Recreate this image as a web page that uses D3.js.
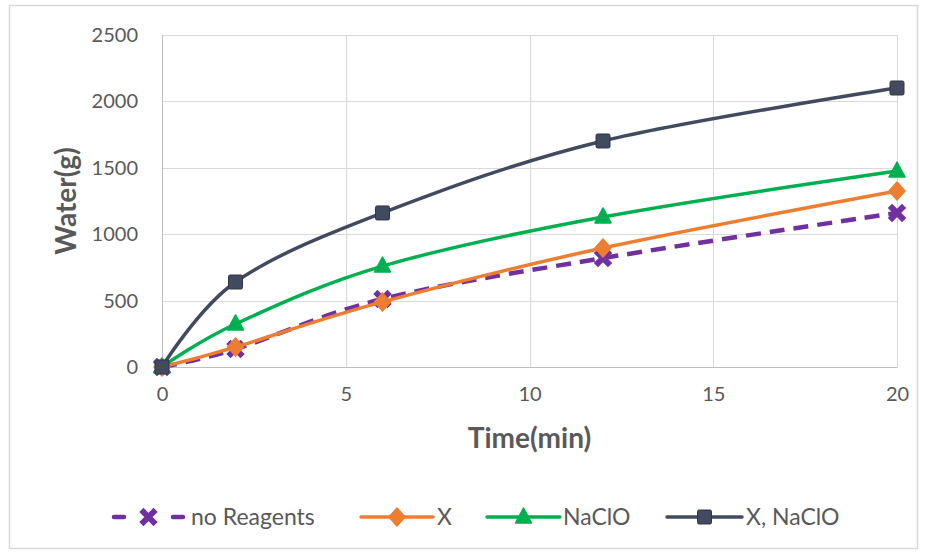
<!DOCTYPE html>
<html><head><meta charset="utf-8">
<script src="https://cdn.jsdelivr.net/npm/d3@7"></script>
<style>
html,body{margin:0;padding:0;background:#fff;}
svg{display:block;font-family:Lato,"Open Sans",sans-serif;}
</style></head>
<body>
<svg id="chart" width="926" height="554"></svg>
<script>
const times = [0, 2, 6, 12, 20];
const seriesNames = ["no Reagents", "X", "NaClO", "X, NaClO"];
const noReagents = [0, 135, 512, 820, 1160];
const xOnly = [0, 150, 490, 896, 1325];
const naclo = [0, 324, 760, 1130, 1476];
const xNaclo = [0, 640, 1160, 1702, 2101];
const xTicks = [0, 5, 10, 15, 20];
const yTicks = [0, 500, 1000, 1500, 2000, 2500];
const colors = ["#7030A0", "#ED7D31", "#00B050", "#414A5E"];
const markers = ["x", "diamond", "triangle", "square"];
const allValues = [noReagents, xOnly, naclo, xNaclo];

const svg = d3.select("#chart");
svg.append("rect").attr("x", 9.5).attr("y", 5.5).attr("width", 908).attr("height", 543)
  .attr("fill", "#fff").attr("stroke", "#d9d9d9").attr("stroke-width", 1.5);

const L = 162, R = 897, T = 35, B = 367;
const x = d3.scaleLinear().domain([0, 20]).range([L, R]);
const y = d3.scaleLinear().domain([0, 2500]).range([B, T]);

// gridlines
const grid = svg.append("g");
grid.selectAll("line.h").data(yTicks).join("line")
  .attr("x1", L).attr("x2", R).attr("y1", d => Math.round(y(d)) + 0.5).attr("y2", d => Math.round(y(d)) + 0.5)
  .attr("stroke", "#d9d9d9").attr("stroke-width", 1);
grid.selectAll("line.v").data(xTicks).join("line")
  .attr("y1", T).attr("y2", B).attr("x1", d => Math.round(x(d)) + 0.5).attr("x2", d => Math.round(x(d)) + 0.5)
  .attr("stroke", "#d9d9d9").attr("stroke-width", 1);

// axes
const yAxis = svg.append("g").attr("transform", `translate(${L},0)`)
  .call(d3.axisLeft(y).tickValues(yTicks).tickFormat(d3.format("d")).tickSize(0).tickPadding(24));
yAxis.select(".domain").attr("stroke", "#bfbfbf");
yAxis.selectAll("text").attr("font-size", 20).attr("fill", "#595959").attr("font-family", "Lato");
const xAxis = svg.append("g").attr("transform", `translate(0,${B})`)
  .call(d3.axisBottom(x).tickValues(xTicks).tickFormat(d3.format("d")).tickSize(0).tickPadding(20));
xAxis.select(".domain").attr("stroke", "#bfbfbf");
xAxis.selectAll("text").attr("font-size", 20).attr("fill", "#595959").attr("font-family", "Lato");

svg.append("text").attr("x", (L + R) / 2).attr("y", 448).attr("text-anchor", "middle")
  .attr("font-size", 28).attr("font-weight", "bold").attr("fill", "#595959").text("Time(min)");
svg.append("text").attr("transform", `translate(76,${(T + B) / 2}) rotate(-90)`).attr("text-anchor", "middle")
  .attr("font-size", 28).attr("font-weight", "bold").attr("fill", "#595959").text("Water(g)");

function drawMarker(g, type, cx, cy, color) {
  if (type === "square") {
    g.append("rect").attr("x", cx - 7).attr("y", cy - 7).attr("width", 14).attr("height", 14).attr("rx", 1.5)
      .attr("fill", color).attr("stroke", "#2f3647").attr("stroke-width", 1);
  } else if (type === "triangle") {
    g.append("path").attr("d", `M${cx},${cy - 9}L${cx + 8},${cy + 6}L${cx - 8},${cy + 6}Z`)
      .attr("fill", color).attr("stroke", color).attr("stroke-width", 1.5).attr("stroke-linejoin", "round");
  } else if (type === "diamond") {
    g.append("path").attr("d", `M${cx},${cy - 9}L${cx + 8},${cy}L${cx},${cy + 9}L${cx - 8},${cy}Z`)
      .attr("fill", color).attr("stroke", color).attr("stroke-width", 1.5).attr("stroke-linejoin", "round");
  } else {
    g.append("path").attr("d", `M${cx - 5},${cy - 5}L${cx + 5},${cy + 5}M${cx + 5},${cy - 5}L${cx - 5},${cy + 5}`)
      .attr("stroke", color).attr("stroke-width", 6).attr("stroke-linecap", "square");
  }
}

const line = d3.line().x(d => x(d[0])).y(d => y(d[1])).curve(d3.curveCardinal.tension(0));
[0, 1, 2, 3].forEach(i => {
  const pts = times.map((t, j) => [t, allValues[i][j]]);
  const g = svg.append("g");
  g.append("path").attr("d", line(pts)).attr("fill", "none").attr("stroke", colors[i])
    .attr("stroke-width", i === 0 ? 4.5 : 3.5).attr("stroke-linecap", i === 0 ? "butt" : "round")
    .attr("stroke-dasharray", i === 0 ? "15,9" : null);
  pts.forEach(p => drawMarker(g, markers[i], x(p[0]), y(p[1]), colors[i]));
});

// legend
const legendY = 517;
const legendItems = [
  { x1: 114, x2: 183, tx: 191 },
  { x1: 361, x2: 433, tx: 437 },
  { x1: 487, x2: 560, tx: 563 },
  { x1: 667, x2: 742, tx: 746 }
];
const lg = svg.append("g");
legendItems.forEach((it, i) => {
  lg.append("line").attr("x1", it.x1).attr("x2", it.x2).attr("y1", legendY).attr("y2", legendY)
    .attr("stroke", colors[i]).attr("stroke-width", i === 0 ? 4.5 : 3.5).attr("stroke-linecap", "round")
    .attr("stroke-dasharray", i === 0 ? "10,49" : null);
  drawMarker(lg, markers[i], (it.x1 + it.x2) / 2, legendY, colors[i]);
  lg.append("text").attr("x", it.tx).attr("y", legendY).attr("dy", "0.35em")
    .attr("font-size", 23).attr("fill", "#595959").text(seriesNames[i]);
});
</script>
</body></html>
